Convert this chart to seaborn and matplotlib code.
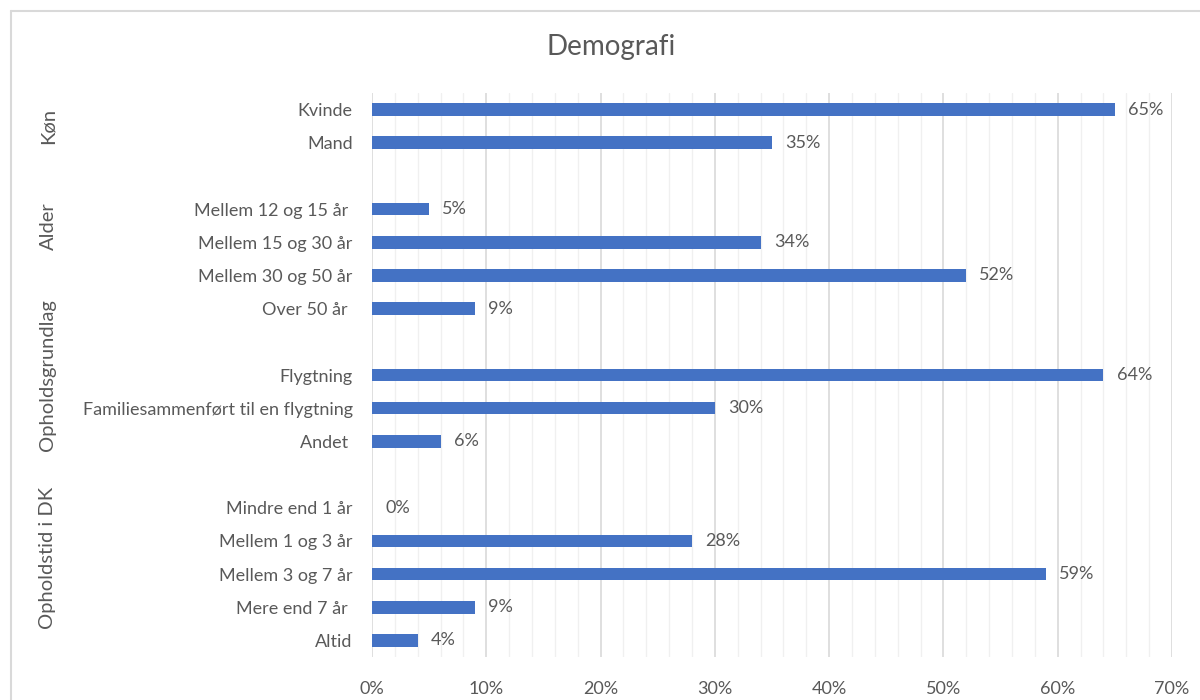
import matplotlib
matplotlib.use("Agg")
import matplotlib.pyplot as plt
from matplotlib.lines import Line2D
from matplotlib.ticker import MultipleLocator, FuncFormatter
import matplotlib.transforms as mtransforms
import seaborn as sns
import pandas as pd
import numpy as np

# ---- data ----
row_labels = ["Kvinde", "Mand", " ",
              "Mellem 12 og 15 år ", "Mellem 15 og 30 år", "Mellem 30 og 50 år", "Over 50 år ", "  ",
              "Flygtning", "Familiesammenført til en flygtning", "Andet ", "   ",
              "Mindre end 1 år", "Mellem 1 og 3 år", "Mellem 3 og 7 år", "Mere end 7 år ", "Altid"]
row_values = [0.65, 0.35, np.nan,
              0.05, 0.34, 0.52, 0.09, np.nan,
              0.64, 0.30, 0.06, np.nan,
              0.00, 0.28, 0.59, 0.09, 0.04]
group_names = ["Køn", "Alder", "Opholdsgrundlag", "Opholdstid i DK"]
group_first_row = [0, 2, 6, 11]
group_last_row = [1, 5, 10, 16]
title = "Demografi"

sns.set_theme(style="white")
plt.rcParams["font.family"] = ["Lato", "DejaVu Sans"]
text_color = "#595959"
bar_color = "#4472C4"

df = pd.DataFrame({"label": row_labels, "value": row_values}).dropna()

fig = plt.figure(figsize=(12, 7), dpi=100)
ax = fig.add_axes([372 / 1200, 1 - 657 / 700, 800 / 1200, 564 / 700])

sns.barplot(data=df, x="value", y="label", order=row_labels, color=bar_color,
            width=0.38, orient="h", ax=ax, saturation=1, errorbar=None, zorder=3,
            linewidth=0)

ax.set_xlim(0, 0.7)
ax.set_ylim(len(row_labels) - 0.5, -0.5)
ax.xaxis.set_major_locator(MultipleLocator(0.1))
ax.xaxis.set_minor_locator(MultipleLocator(0.02))
ax.xaxis.set_major_formatter(FuncFormatter(lambda v, p: f"{v*100:.0f}%"))
ax.grid(True, axis="x", which="major", color="#D9D9D9", linewidth=1.2, zorder=0)
ax.grid(True, axis="x", which="minor", color="#F0F0F0", linewidth=1.0, zorder=0)
ax.grid(False, axis="y")
ax.set_axisbelow(True)
for s in ax.spines.values():
    s.set_visible(False)
ax.tick_params(axis="both", which="both", length=0, colors=text_color, labelsize=13)
ax.tick_params(axis="x", pad=17)
ax.tick_params(axis="y", pad=14)
ax.set_xlabel("")
ax.set_ylabel("")

# value labels
for i, v in enumerate(row_values):
    if np.isnan(v):
        continue
    ax.annotate(f"{v*100:.0f}%", xy=(v, i), xytext=(9.5, 0), textcoords="offset points",
                ha="left", va="center", color=text_color, fontsize=13)

# group labels
trans = mtransforms.blended_transform_factory(ax.transAxes, ax.transData)
for name, a, b in zip(group_names, group_first_row, group_last_row):
    ax.text(-0.405, (a + b) / 2, name, rotation=90, ha="center", va="center",
            transform=trans, color=text_color, fontsize=14.5)

fig.text(611 / 1200, 1 - 47 / 700, title, ha="center", va="center",
         color=text_color, fontsize=20)

# chart border (left and top)
fig.add_artist(Line2D([11 / 1200, 11 / 1200], [0, 1 - 11 / 700], color="#D9D9D9",
                      linewidth=1.5, transform=fig.transFigure))
fig.add_artist(Line2D([11 / 1200, 1], [1 - 11 / 700, 1 - 11 / 700], color="#D9D9D9",
                      linewidth=1.5, transform=fig.transFigure))

fig.savefig("out.png", dpi=100, facecolor="white")
